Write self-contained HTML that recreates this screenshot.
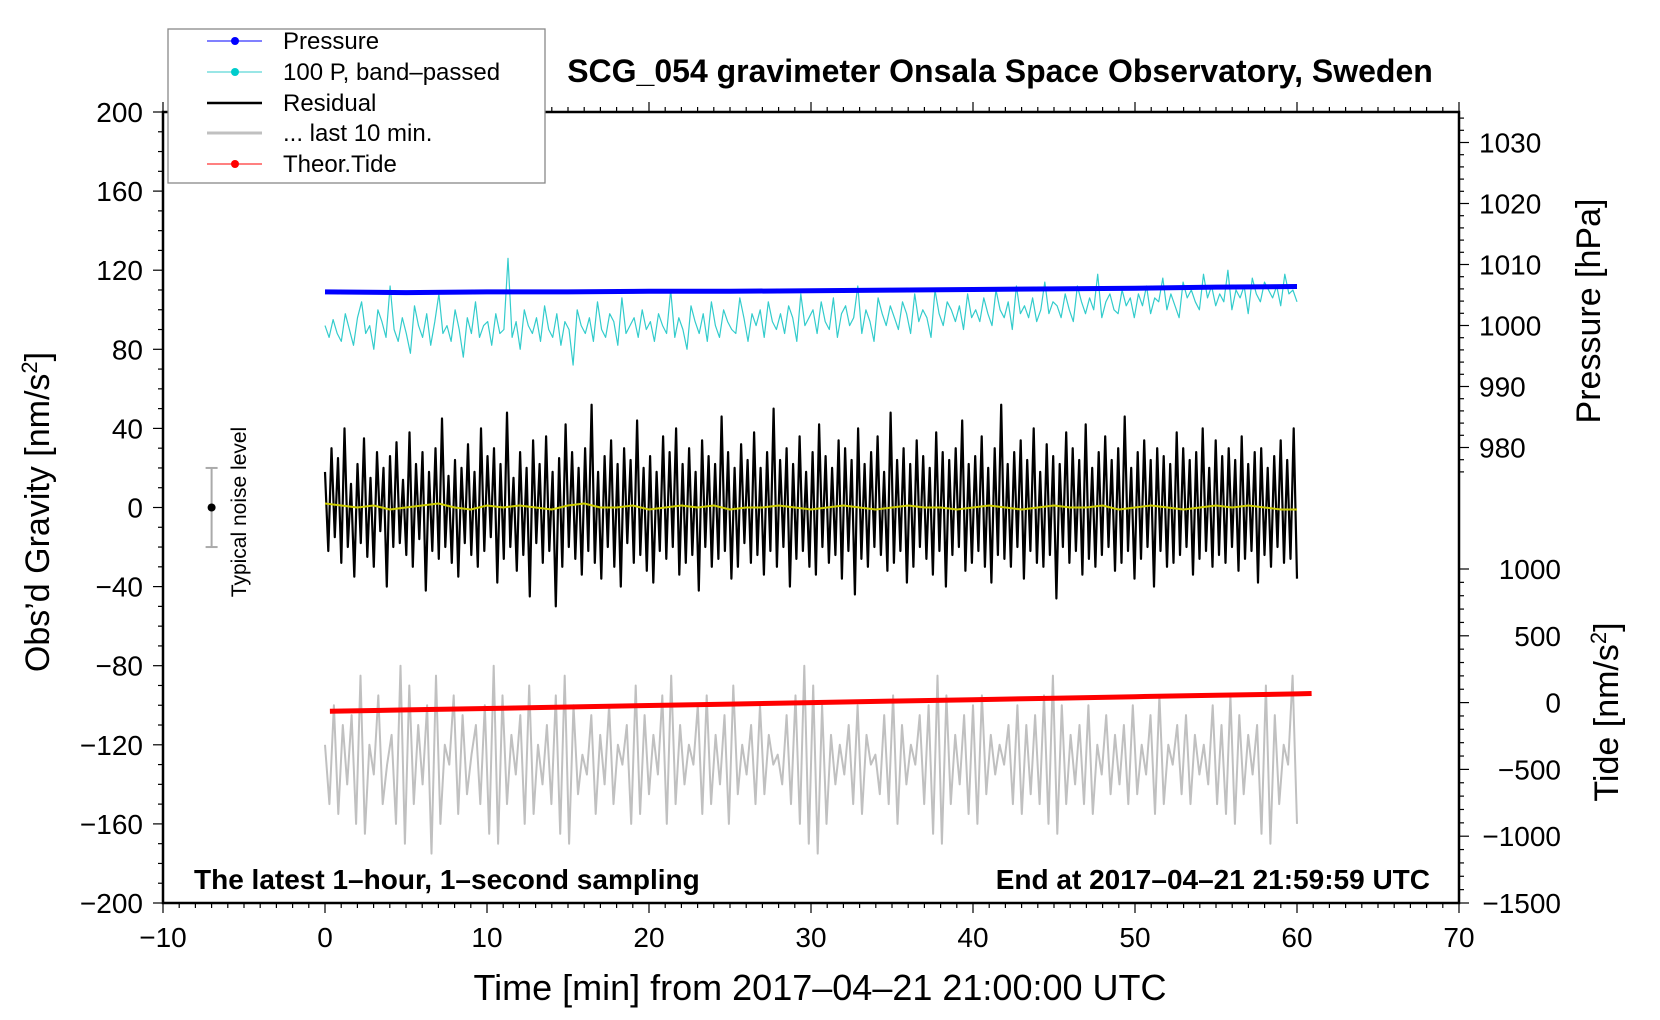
<!DOCTYPE html>
<html><head><meta charset="utf-8">
<style>
html,body{margin:0;padding:0;background:#fff;}
svg{display:block;font-family:"Liberation Sans",sans-serif;}
</style></head>
<body>
<svg id="chart" width="1660" height="1020" viewBox="0 0 1660 1020" xmlns="http://www.w3.org/2000/svg">
<g id="plot"></g>
</svg>
<script>
// ---- data ----
const xTicks = [-10,0,10,20,30,40,50,60,70];
const gTicks = [200,160,120,80,40,0,-40,-80,-120,-160,-200];
const pTicks = [980,990,1000,1010,1020,1030];
const tTicks = [-1500,-1000,-500,0,500,1000];
const pressureT = [0,5,10,15,20,25,30,35,40,45,50,55,60];
const pressureV = [1005.5,1005.4,1005.5,1005.5,1005.6,1005.6,1005.7,1005.8,1005.9,1006.0,1006.1,1006.3,1006.4];
const tideT = [0.3,5,10,15,20,25,30,35,40,45,50,55,60,60.9];
const tideV = [-65,-55,-44,-33,-22,-11,0,11,22,33,44,55,65,68];
const residual = [18,-22,30,-15,25,-28,40,-20,12,-35,22,-18,35,-25,15,-30,28,-12,20,-40,
26,-20,33,-18,14,-24,38,-30,22,-16,28,-42,18,-22,30,-26,45,-20,16,-28,
24,-35,20,-18,32,-24,18,-30,40,-22,26,-15,30,-38,22,-26,48,-20,15,-32,
28,-24,20,-45,34,-18,22,-28,36,-22,18,-50,25,-30,42,-20,28,-26,20,-34,
30,-22,52,-28,18,-36,26,-20,34,-30,22,-40,30,-18,24,-28,44,-24,20,-32,
26,-38,18,-22,36,-26,28,-20,40,-34,22,-28,30,-24,18,-42,34,-20,26,-30,
22,-26,46,-22,28,-36,20,-30,32,-18,24,-28,38,-24,20,-34,28,-22,50,-30,
24,-20,30,-40,22,-26,36,-22,18,-30,28,-34,42,-20,26,-28,20,-24,34,-36,
30,-22,24,-44,40,-26,22,-30,28,-20,36,-24,18,-32,48,-28,24,-22,30,-38,
22,-30,34,-20,26,-26,20,-34,38,-22,28,-40,24,-24,30,-20,44,-32,22,-28,
26,-22,36,-30,20,-38,30,-24,52,-26,22,-30,28,-20,34,-36,24,-22,40,-28,
18,-30,32,-24,26,-46,22,-20,38,-28,30,-22,24,-34,42,-26,20,-30,28,-24,
36,-20,24,-32,30,-28,46,-22,20,-36,28,-26,34,-20,24,-40,30,-22,26,-30,
22,-28,38,-24,30,-20,24,-34,28,-26,40,-22,20,-30,34,-24,26,-28,30,-20,
24,-32,36,-26,22,-22,28,-38,30,-24,20,-30,26,-20,34,-28,24,-26,40,-36];
const bandPassed = [92,86,95,88,84,98,90,82,96,104,88,92,80,100,94,86,112,90,84,96,
88,78,102,92,86,98,82,94,108,88,92,84,100,90,76,96,88,104,86,92,
94,82,98,88,90,126,86,94,80,100,92,88,96,84,102,90,86,98,82,94,
90,72,100,92,88,96,84,104,90,86,98,94,82,106,88,92,96,86,100,90,
94,84,98,92,88,110,86,96,90,80,102,94,88,98,84,104,92,86,100,94,
90,88,106,96,84,98,92,100,86,104,94,90,98,88,102,96,84,108,92,96,
100,88,104,94,90,106,86,98,102,92,96,112,88,100,94,84,106,98,92,102,
96,90,104,98,88,108,94,100,96,86,110,98,92,104,100,94,102,90,108,96,
100,94,106,98,92,110,100,96,104,90,112,98,102,96,106,94,100,114,98,104,
102,96,108,100,94,112,104,98,106,100,118,96,104,108,100,98,110,102,106,96,
108,102,112,98,106,104,116,100,108,102,96,114,106,110,104,100,118,106,112,102,
108,104,120,100,110,106,112,98,116,108,104,114,110,106,112,102,118,108,110,104];
const last10 = [-120,-150,-100,-155,-110,-140,-105,-160,-85,-165,-120,-135,-95,-150,-130,-115,-160,-80,-170,-90,
-150,-110,-140,-100,-175,-85,-160,-120,-130,-95,-155,-105,-145,-125,-110,-150,-100,-165,-80,-170,
-95,-150,-115,-135,-105,-160,-90,-155,-120,-140,-110,-150,-95,-165,-85,-170,-100,-145,-125,-135,
-105,-155,-115,-140,-100,-150,-120,-130,-110,-160,-90,-155,-105,-145,-115,-135,-95,-160,-85,-150,
-110,-140,-120,-130,-100,-155,-95,-150,-115,-140,-105,-160,-90,-145,-120,-135,-110,-150,-100,-145,
-115,-130,-125,-140,-105,-150,-95,-160,-80,-170,-90,-175,-100,-160,-115,-140,-120,-135,-110,-150,
-100,-155,-115,-130,-125,-145,-105,-150,-95,-160,-110,-140,-120,-130,-105,-150,-100,-165,-85,-170,
-95,-150,-115,-140,-105,-155,-100,-160,-95,-145,-115,-135,-120,-130,-110,-150,-100,-155,-110,-145,
-105,-150,-95,-160,-85,-165,-100,-150,-115,-140,-110,-150,-100,-155,-120,-135,-105,-145,-115,-140,
-110,-150,-100,-145,-120,-135,-105,-155,-95,-150,-120,-130,-110,-145,-105,-150,-115,-135,-120,-140,
-100,-150,-110,-155,-95,-160,-105,-145,-115,-135,-110,-165,-90,-170,-105,-150,-120,-130,-85,-160];
const lowpass = [2,1,0,1,-1,0,1,2,0,-1,1,0,1,0,-1,1,2,0,0,1,-1,0,1,0,1,-1,0,0,1,0,-1,0,1,0,-1,0,1,0,0,-1,0,1,0,-1,0,1,0,0,1,-1,0,1,0,-1,0,1,0,1,0,-1,-1];

// ---- axes ----
const L=163,R=1459,T=112,B=903;
const X = t => L + (t+10)*(R-L)/80;
const YG = g => T + (200-g)*(B-T)/400;
const YP = p => 142.5 + (1030-p)*6.1;
const YT = v => B - (v+1500)*66.8/500;
const NS="http://www.w3.org/2000/svg";
const root=document.getElementById('plot');
function mk(tag,attrs,parent){const e=document.createElementNS(NS,tag);for(const k in attrs)e.setAttribute(k,attrs[k]);(parent||root).appendChild(e);return e;}
const fmt = v => (v<0?'\u2212'+Math.abs(v):String(v));

function poly(ts,vs,yf,stroke,w,name){
  const pts=vs.map((v,i)=>X(ts[i]).toFixed(1)+','+yf(v).toFixed(1)).join(' ');
  const el=mk('polyline',{points:pts,fill:'none',stroke:stroke,'stroke-width':w,'stroke-linejoin':'round'});
  
  
  return el;
}
const bpT=bandPassed.map((_,i)=>i*60/(bandPassed.length-1));
poly(bpT,bandPassed,YG,'#33cccc',1.2,'band-passed-pressure-line');
poly(pressureT,pressureV,YP,'#0000ff',5,'pressure-line');
const resT=residual.map((_,i)=>i*60/(residual.length-1));
poly(resT,residual,YG,'#000',2.2,'residual-line');
const lpT=lowpass.map((_,i)=>i*60/(lowpass.length-1));
poly(lpT,lowpass,YG,'#cccc00',2,'residual-smoothed-line');
const l10T=last10.map((_,i)=>i*60/(last10.length-1));
poly(l10T,last10,YG,'#c0c0c0',2,'last-10-min-line');
poly(tideT,tideV,YT,'#ff0000',5,'theoretical-tide-line');

const fr=mk('rect',{x:L,y:T,width:R-L,height:B-T,fill:'none',stroke:'#000','stroke-width':2.5});



for(let t=-10;t<=70;t++){
  const maj=t%10===0;
  mk('line',{x1:X(t),x2:X(t),y1:B,y2:B+(maj?10:5),stroke:'#000','stroke-width':1.2});
  mk('line',{x1:X(t),x2:X(t),y1:T,y2:T-(maj?10:5),stroke:'#000','stroke-width':1.2});
}
xTicks.forEach(t=>{
  const e=mk('text',{x:X(t),y:B+44,'font-size':28,'text-anchor':'middle'});
  e.textContent=fmt(t);
  
  
});
for(let g=-200;g<=200;g+=10){
  const maj=g%40===0;
  mk('line',{x1:L,x2:L-(maj?10:5),y1:YG(g),y2:YG(g),stroke:'#000','stroke-width':1.2});
}
gTicks.forEach(g=>{
  const e=mk('text',{x:L-20,y:YG(g)+10,'font-size':28,'text-anchor':'end'});
  e.textContent=fmt(g);
  
  
});
for(let p=976;p<=1034;p+=2){
  const maj=p%10===0;
  mk('line',{x1:R,x2:R+(maj?10:5),y1:YP(p),y2:YP(p),stroke:'#000','stroke-width':1.2});
}
pTicks.forEach(p=>{
  const e=mk('text',{x:R+20,y:YP(p)+10,'font-size':28});
  e.textContent=fmt(p);
  
  
});
for(let v=-1500;v<=1000;v+=100){
  const maj=v%500===0;
  mk('line',{x1:R,x2:R+(maj?10:5),y1:YT(v),y2:YT(v),stroke:'#000','stroke-width':1.2});
}
tTicks.forEach(v=>{
  const e=mk('text',{x:1561,y:YT(v)+10,'font-size':28,'text-anchor':'end'});
  e.textContent=fmt(v);
  
  
});

const nx=X(-7);
mk('line',{x1:nx,x2:nx,y1:YG(20),y2:YG(-20),stroke:'#aaa','stroke-width':2});
mk('line',{x1:nx-6,x2:nx+6,y1:YG(20),y2:YG(20),stroke:'#aaa','stroke-width':2});
mk('line',{x1:nx-6,x2:nx+6,y1:YG(-20),y2:YG(-20),stroke:'#aaa','stroke-width':2});
mk('circle',{cx:nx,cy:YG(0),r:4,fill:'#000'});
</script>
<script>
const s=document.getElementById('chart');
s.insertAdjacentHTML('beforeend',`
<text x="0" y="0" font-size="21" text-anchor="middle" transform="translate(246,512) rotate(-90)">Typical noise level</text>
<text x="1000" y="82" font-size="32" font-weight="bold" text-anchor="middle">SCG_054 gravimeter Onsala Space Observatory, Sweden</text>
<text x="194" y="889" font-size="28" font-weight="bold">The latest 1\u2013hour, 1\u2013second sampling</text>
<text x="1430" y="889" font-size="28" font-weight="bold" text-anchor="end">End at 2017\u201304\u201321 21:59:59 UTC</text>
<text x="820" y="1000" font-size="36" text-anchor="middle">Time [min] from 2017\u201304\u201321 21:00:00 UTC</text>
<text transform="translate(49,512) rotate(-90)" font-size="34" text-anchor="middle">Obs\u2019d Gravity [nm/s<tspan font-size="22" dy="-12">2</tspan><tspan dy="12">]</tspan></text>
<text transform="translate(1600,311) rotate(-90)" font-size="34" text-anchor="middle">Pressure [hPa]</text>
<text transform="translate(1618,712) rotate(-90)" font-size="34" text-anchor="middle">Tide [nm/s<tspan font-size="22" dy="-12">2</tspan><tspan dy="12">]</tspan></text>
<g>
<rect x="168" y="29" width="377" height="154" fill="#fff" stroke="#888" stroke-width="1.3"/>
<g><line x1="207" x2="262" y1="41" y2="41" stroke="#0000ff"/><circle cx="235" cy="41" r="4" fill="#0000ff"/><text x="283" y="49" font-size="24">Pressure</text></g>
<g><line x1="207" x2="262" y1="72" y2="72" stroke="#33cccc"/><circle cx="235" cy="72" r="4" fill="#00cccc"/><text x="283" y="80" font-size="24">100 P, band\u2013passed</text></g>
<g><line x1="207" x2="262" y1="103" y2="103" stroke="#000" stroke-width="2.5"/><text x="283" y="111" font-size="24">Residual</text></g>
<g><line x1="207" x2="262" y1="133" y2="133" stroke="#c0c0c0" stroke-width="3"/><text x="283" y="141" font-size="24">... last 10 min.</text></g>
<g><line x1="207" x2="262" y1="164" y2="164" stroke="#ff0000"/><circle cx="235" cy="164" r="4" fill="#ff0000"/><text x="283" y="172" font-size="24">Theor.Tide</text></g>
</g>`);
</script>
</body></html>
